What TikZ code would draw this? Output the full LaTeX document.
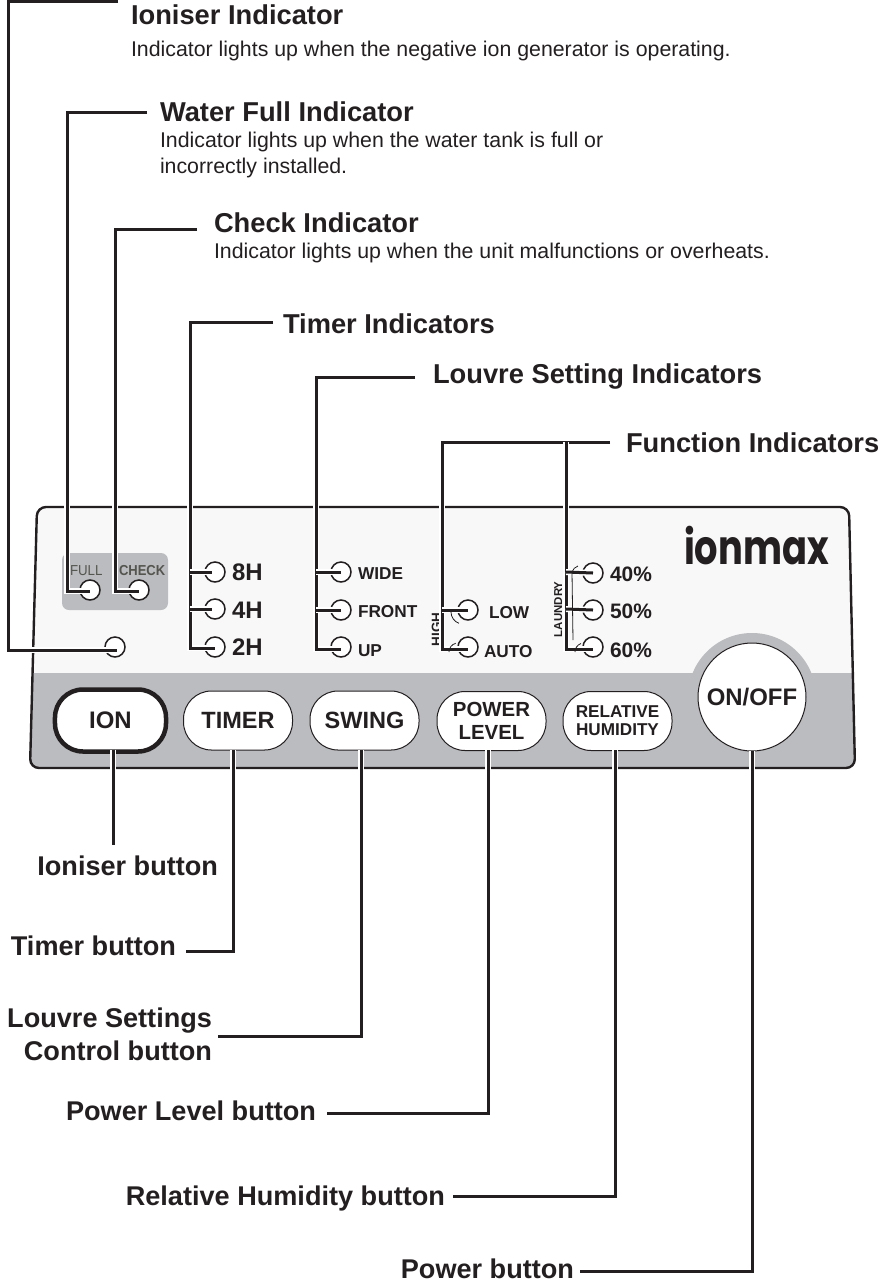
\documentclass[tikz,border=0pt]{standalone}
\usepackage{fontspec}
\setmainfont{Liberation Sans}
\newfontfamily\logofont{Poppins}
\usetikzlibrary{calc}
\definecolor{ink}{HTML}{231F20}
\definecolor{panelgray}{HTML}{BBBCBF}
\definecolor{panellight}{HTML}{F8F8F8}
\definecolor{dimtext}{HTML}{55554F}
\newcommand{\fsz}[1]{\fontsize{#1}{#1}\selectfont}
\tikzset{
  x=1bp,y=-1bp,
  every node/.style={inner sep=0pt,outer sep=0pt,text=ink},
  head/.style={anchor=base west,font=\fsz{27.4}\bfseries},
  body/.style={anchor=base west,font=\fsz{21.4},align=left},
  callout/.style={anchor=base east,font=\fsz{27.2}\bfseries,align=right},
  led/.style={circle,draw=ink,fill=white,line width=1.5bp,minimum size=20bp},
  ledtxt/.style={anchor=base west,font=\fsz{17.3}\bfseries},
  pill/.style={rounded corners=28bp,draw=ink,fill=white,line width=1bp,minimum width=109bp,minimum height=59bp,align=center},
  wire/.style={preaction={draw=white,line width=6bp},draw=ink,line width=3bp},
  thinmark/.style={draw=ink,line width=.8bp},
}
\begin{document}
\begin{tikzpicture}
\useasboundingbox (0,0) rectangle (891,1281);
% panel
\begin{scope}
\clip[rounded corners=9bp] (37,507) -- (849,507) -- (855,768) -- (30,768) -- cycle;
\fill[panellight] (0,500) rectangle (891,673);
\fill[panelgray] (0,673) rectangle (891,770);
\fill[panelgray] (752,697) circle (64);
\end{scope}
\draw[ink,line width=2.4bp,rounded corners=9bp] (37,507) -- (849,507) -- (855,768) -- (30,768) -- cycle;
\fill[panelgray,rounded corners=7bp] (62,553) rectangle (168,610);
% LEDs
\node[led] (ledIon) at (115,647) {};
\node[led] (ledFull) at (90,590) {};
\node[led] (ledCheck) at (139,590) {};
\node[led] (led8) at (215,572) {};
\node[led] (led4) at (215,609) {};
\node[led] (led2) at (215,647) {};
\node[led] (ledWide) at (341,572) {};
\node[led] (ledFront) at (341,610) {};
\node[led] (ledUp) at (341,647) {};
\node[led] (ledLow) at (468,610) {};
\node[led] (ledAuto) at (468,647) {};
\node[led] (led40) at (593,573) {};
\node[led] (led50) at (593,610) {};
\node[led] (led60) at (593,647) {};
% panel texts
\node[anchor=base west,font=\fsz{14.5},text=dimtext,xscale=.92] (tFull) at (70,575) {FULL};
\node[anchor=base west,font=\fsz{14.5}\bfseries,text=dimtext,xscale=.9] (tCheck) at (119,575) {CHECK};
\node[anchor=base west,font=\fsz{24}\bfseries] (t8) at (232,580) {8H};
\node[anchor=base west,font=\fsz{24}\bfseries] (t4) at (232,618) {4H};
\node[anchor=base west,font=\fsz{24}\bfseries] (t2) at (232,655) {2H};
\node[ledtxt] (tWide) at (358,579) {WIDE};
\node[ledtxt] (tFront) at (358,617) {FRONT};
\node[ledtxt] (tUp) at (358,656) {UP};
\node[ledtxt] (tLow) at (489,618) {LOW};
\node[ledtxt] (tAuto) at (484,657) {AUTO};
\node[anchor=base west,font=\fsz{21}\bfseries] (t40) at (610,581) {40\%};
\node[anchor=base west,font=\fsz{21}\bfseries] (t50) at (610,618) {50\%};
\node[anchor=base west,font=\fsz{21}\bfseries] (t60) at (610,657) {60\%};
\node[rotate=90,anchor=base west,font=\fsz{13.5}\bfseries] (tHigh) at (441,646) {HIGH};
\node[rotate=90,anchor=base west,font=\fsz{11.5}\bfseries] (tLaundry) at (562,637) {LAUNDRY};
\node[anchor=base west,font=\logofont\fsz{48}\bfseries,xscale=.77] (logo) at (684,564) {ionmax};
% buttons
\node[pill,line width=4.5bp,minimum width=111bp,minimum height=62bp,font=\fsz{24}\bfseries] (btnIon) at (110.5,720.5) {ION};
\node[pill,font=\fsz{23.6}\bfseries] (btnTimer) at (238,720.5) {TIMER};
\node[pill,font=\fsz{23.6}\bfseries] (btnSwing) at (364.5,720.5) {SWING};
\node[pill,font=\fsz{20.5}\bfseries] (btnPower) at (491.5,721) {POWER\\[2bp]LEVEL};
\node[pill,font=\fsz{17.2}\bfseries] (btnHum) at (617.5,721) {RELATIVE\\[1bp]HUMIDITY};
\node[circle,draw=ink,fill=white,line width=1bp,minimum size=108bp,font=\fsz{24}\bfseries] (btnOn) at (752,697) {ON/OFF};
% heading texts
\node[head] (hIon) at (131,24) {Ioniser Indicator};
\node[body] (bIon) at (131,56) {Indicator lights up when the negative ion generator is operating.};
\node[head] (hFull) at (160,121) {Water Full Indicator};
\node[body] (bFull) at (160,147) {Indicator lights up when the water tank is full or};
\node[body] (bFull2) at (160,173) {incorrectly installed.};
\node[head] (hCheck) at (214,232) {Check Indicator};
\node[body] (bCheck) at (214,258) {Indicator lights up when the unit malfunctions or overheats.};
\node[head] (hTimer) at (283,333) {Timer Indicators};
\node[head] (hLouvre) at (433,383) {Louvre Setting Indicators};
\node[head] (hFunc) at (626,452) {Function Indicators};
% callouts
\node[callout] (cIon) at (218,875) {Ioniser button};
\node[callout] (cTimer) at (176,955) {Timer button};
\node[callout] (cLouvre) at (212,1027) {Louvre Settings};
\node[callout] (cLouvre2) at (212,1060) {Control button};
\node[callout] (cPower) at (316,1120) {Power Level button};
\node[callout] (cHum) at (445,1205) {Relative Humidity button};
\node[callout] (cOn) at (574,1278) {Power button};
% free ends
\coordinate (eIon) at (118,1);
\coordinate (eFull) at (147,112);
\coordinate (eCheck) at (197,229);
\coordinate (eTimer) at (273,322);
\coordinate (eLouvre) at (415,377);
\coordinate (eFunc) at (610,442);
\coordinate (eIonB) at (113,845);
\coordinate (eTimerB) at (186,951);
\coordinate (eSwingB) at (218,1036);
\coordinate (ePowerB) at (327,1113);
\coordinate (eHumB) at (453,1196);
\coordinate (eOnB) at (580,1271);
% indicator wires
\draw[wire] (eIon) -- (8,1) |- ([xshift=2bp,yshift=-3bp]ledIon.center);
\draw[wire] (eFull) -- (67,112) |- ([yshift=-1bp]ledFull.center);
\draw[wire] (eCheck) -- (115,229) |- ([yshift=-1bp]ledCheck.center);
\draw[wire] (eTimer) -- (190,322) |- ([yshift=-1bp]led2.center);
\draw[wire] (190,572) -- ([xshift=-3bp]led8.center);
\draw[wire] (190,609) -- ([xshift=-3bp]led4.center);
\draw[wire] (eLouvre) -- (316,377) |- ([yshift=-2bp]ledUp.center);
\draw[wire] (316,572) -- (ledWide.center);
\draw[wire] (316,610) -- (ledFront.center);
\draw[wire] (eFunc) -- (442,442) |- ([yshift=-2bp]ledAuto.center);
\draw[wire] (442,610) -- (ledLow.center);
\draw[wire] (566,442) |- ([yshift=-2bp]led60.center);
\draw[wire] (566,572) -- (led40.center);
\draw[wire] (566,609) -- (led50.center);
% small marks
\draw[thinmark] (451,612) arc[start angle=180,end angle=110,radius=12];
\draw[thinmark] (449,652) arc[start angle=180,end angle=255,radius=9];
\draw[thinmark] (575,652) arc[start angle=180,end angle=250,radius=9];
\draw[thinmark] (572,572) to[out=70,in=200] (578,566);
\draw[thinmark] (572,572) -- (573,640);
% button wires
\draw[wire] (btnIon.south -| eIonB) ++(0,-2) -- (eIonB);
\draw[wire] (233,750) |- (eTimerB);
\draw[wire] (361,750) |- (eSwingB);
\draw[wire] (488,750) |- (ePowerB);
\draw[wire] (615,750) |- (eHumB);
\draw[wire] (btnOn.south) |- (eOnB);
\end{tikzpicture}
\end{document}
